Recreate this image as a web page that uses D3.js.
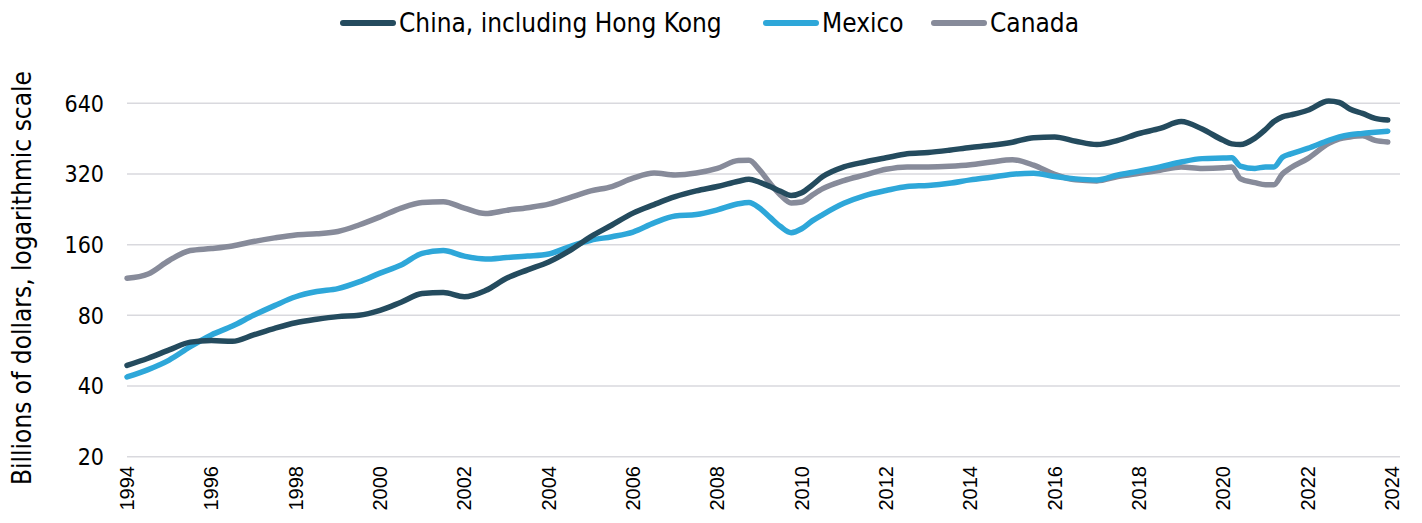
<!DOCTYPE html>
<html>
<head>
<meta charset="utf-8">
<script src="https://cdn.jsdelivr.net/npm/d3@7"></script>
<style>
  body { margin: 0; background: #fff; }
  svg text { font-family: "DejaVu Sans Condensed", "DejaVu Sans", sans-serif; fill: #000; }
  .xlab { font-family: "Liberation Sans", Arial, sans-serif !important; }
</style>
</head>
<body>
<div id="chart"></div>
<script>
// dates in decimal years
const dates = [1994, 1994.5, 1995, 1995.5, 1996, 1996.5, 1997, 1997.5, 1998, 1998.5, 1999, 1999.5,
  2000, 2000.5, 2001, 2001.5, 2002, 2002.5, 2003, 2003.5, 2004, 2004.5, 2005, 2005.5, 2006, 2006.5,
  2007, 2007.5, 2008, 2008.5, 2008.75, 2009, 2009.25, 2009.5, 2009.75, 2010, 2010.25, 2010.5,
  2011, 2011.5, 2012, 2012.5, 2013, 2013.5, 2014, 2014.5, 2015, 2015.5, 2016, 2016.5, 2017, 2017.5,
  2018, 2018.5, 2019, 2019.5, 2020, 2020.2, 2020.4, 2020.75, 2021, 2021.2, 2021.4, 2021.6,
  2022, 2022.5, 2022.75, 2023, 2023.3, 2023.6, 2023.9];

const china = [49, 52.5, 57, 61.5, 62.5, 62, 66, 70.4, 74.4, 77, 79, 80,
  84, 91, 99, 100, 96, 102, 115, 125, 135, 151, 173, 194, 218, 237,
  256, 271, 283, 298, 304, 295, 283, 270, 259, 266, 287, 312,
  343, 360, 375, 390, 395, 404, 415, 424, 437, 457, 460, 441, 427, 445,
  476, 500, 535, 497, 445, 430, 427, 455, 495, 535, 560, 571,
  598, 655, 645, 605, 580, 552, 543];

const mexico = [43.7, 47, 51.6, 58.8, 66, 72, 80, 88, 96, 101, 104, 111,
  121, 131, 147, 151, 143, 139, 141, 143, 146, 157, 167, 173, 181, 198,
  212, 215, 225, 239, 242, 229, 209, 191, 180, 187, 202, 215,
  240, 259, 272, 283, 286, 292, 302, 310, 319, 322, 312, 305, 302, 317,
  329, 343, 360, 372, 374, 375, 346, 338, 343, 343, 377, 390,
  411, 445, 460, 470, 476, 482, 487];

const canada = [115, 120, 137, 151, 154, 158, 165, 171, 176, 178, 182, 194,
  210, 229, 242, 244, 229, 217, 224, 230, 238, 254, 271, 283, 307, 323,
  317, 323, 338, 365, 366, 333, 292, 260, 241, 243, 260, 277,
  300, 317, 335, 343, 343, 345, 350, 360, 368, 349, 319, 302, 299, 312,
  322, 332, 343, 338, 340, 343, 306, 294, 288, 288, 320, 340,
  372, 432, 452, 460, 465, 445, 438];

const seriesNames = ["China, including Hong Kong", "Mexico", "Canada"];
const seriesColors = ["#244b5e", "#2ea7d9", "#878b9a"];
const yTicks = [20, 40, 80, 160, 320, 640];
const xTicks = [1994, 1996, 1998, 2000, 2002, 2004, 2006, 2008, 2010, 2012, 2014, 2016, 2018, 2020, 2022, 2024];

const width = 1422, height = 523;

const svg = d3.select("#chart").append("svg")
  .attr("width", width)
  .attr("height", height);

const x = d3.scaleLinear().domain([1994, 2024]).range([127, 1392]);
const y = d3.scaleLog().base(2).domain([20, 640]).range([456.7, 103.3]);

// gridlines
svg.append("g")
  .selectAll("line")
  .data(yTicks)
  .enter()
  .append("line")
  .attr("x1", 127)
  .attr("x2", 1400)
  .attr("y1", d => y(d))
  .attr("y2", d => y(d))
  .attr("stroke", "#d9d9de")
  .attr("stroke-width", 1.5);

// y tick labels
svg.append("g")
  .selectAll("text")
  .data(yTicks)
  .enter()
  .append("text")
  .attr("x", 104)
  .attr("y", d => y(d))
  .attr("dy", "0.36em")
  .attr("text-anchor", "end")
  .style("font-size", "23px")
  .text(d => d);

// x tick labels, rotated
svg.append("g")
  .selectAll("text")
  .data(xTicks)
  .enter()
  .append("text")
  .attr("class", "xlab")
  .attr("transform", d => `translate(${x(d)},466) rotate(-90)`)
  .attr("dy", "0.35em")
  .attr("text-anchor", "end")
  .style("font-size", "20px")
  .text(d => d);

// y axis title
svg.append("text")
  .attr("transform", "translate(22,278) rotate(-90)")
  .attr("text-anchor", "middle")
  .attr("dy", "0.35em")
  .style("font-size", "26px")
  .text("Billions of dollars, logarithmic scale");

const line = d3.line()
  .x(d => x(d[0]))
  .y(d => y(d[1]))
  .curve(d3.curveMonotoneX);

const allSeries = [china, mexico, canada];
// Canada first so China sits on top
[2, 1, 0].forEach(i => {
  svg.append("path")
    .datum(dates.map((t, j) => [t, allSeries[i][j]]))
    .attr("d", line)
    .attr("fill", "none")
    .attr("stroke", seriesColors[i])
    .attr("stroke-width", 5.5)
    .attr("stroke-linecap", "round")
    .attr("stroke-linejoin", "round");
});

// legend
const legendX = [340, 763, 931];
const legend = svg.append("g");
seriesNames.forEach((name, i) => {
  legend.append("line")
    .attr("x1", legendX[i] + 3)
    .attr("x2", legendX[i] + 53)
    .attr("y1", 23)
    .attr("y2", 23)
    .attr("stroke", seriesColors[i])
    .attr("stroke-width", 6)
    .attr("stroke-linecap", "round");
  legend.append("text")
    .attr("x", legendX[i] + 59)
    .attr("y", 23)
    .attr("dy", "0.36em")
    .style("font-size", "26px")
    .text(name);
});
</script>
</body>
</html>
